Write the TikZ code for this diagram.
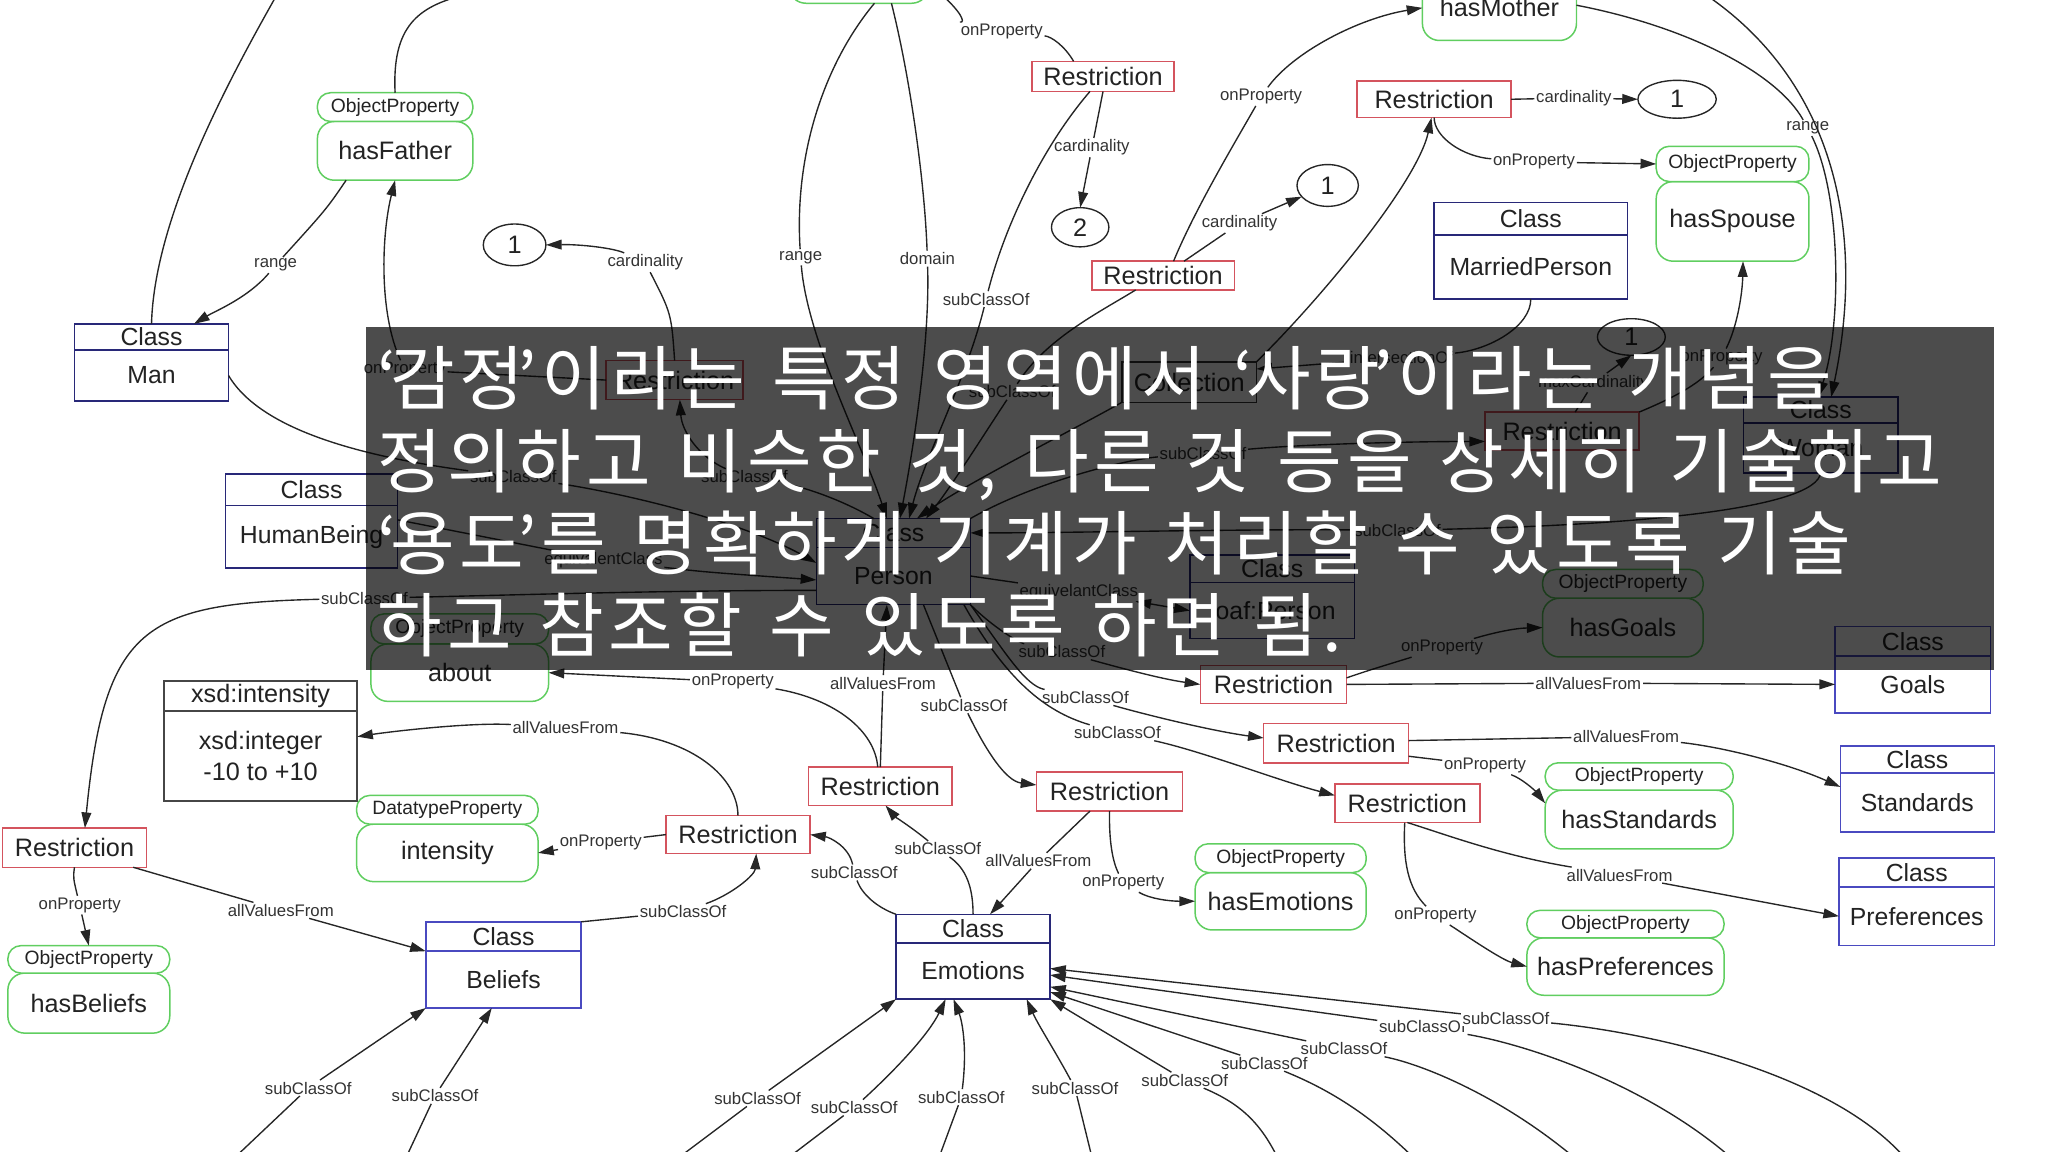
\documentclass[tikz,border=0pt]{standalone}
\usepackage{fontspec}
\setmainfont{Liberation Sans}
\newfontfamily\kofont[LetterSpace=6.8, WordSpace=1.33]{Noto Sans CJK KR}
\usetikzlibrary{shapes.geometric, arrows.meta, positioning, calc}

\definecolor{restred}{RGB}{212, 84, 94}
\definecolor{propgreen}{RGB}{96, 206, 96}
\definecolor{clsnavy}{RGB}{40, 40, 120}
\definecolor{clsblue}{RGB}{74, 74, 192}
\definecolor{xsdgrey}{RGB}{70, 70, 70}
\definecolor{inkgrey}{RGB}{35, 35, 35}

\tikzset{
  link/.style={line width=0.6pt, draw=black!85},
  linkarr/.style={link, -{Triangle[length=2.4mm, width=1.5mm]}},
  eqarr/.style={link, {Triangle[length=2.4mm, width=1.5mm]}-{Triangle[length=2.4mm, width=1.5mm]}},
  lbl/.style={font=\fontsize{7.3}{8}\selectfont, text=black!80, fill=white, inner sep=0.6pt},
  restr/.style={draw=restred, line width=0.65pt, fill=white, text=inkgrey, font=\fontsize{11}{13}\selectfont, inner sep=0pt, outer sep=0pt},
  clsbody/.style={draw=#1, line width=0.65pt, fill=white, text=inkgrey, font=\fontsize{10.8}{13}\selectfont, inner sep=0pt, outer sep=0pt},
  clsbody/.default=clsnavy,
  clshead/.style={clsbody=#1},
  clshead/.default=clsnavy,
  xsdbody/.style={draw=xsdgrey, line width=0.8pt, fill=white, text=inkgrey, font=\fontsize{11}{13.6}\selectfont, align=center, inner sep=0pt, outer sep=0pt},
  collbox/.style={draw=black!80, line width=0.65pt, fill=white, text=inkgrey, font=\fontsize{11}{13}\selectfont, inner sep=0pt, outer sep=0pt},
  propbody/.style={draw=propgreen, line width=0.65pt, fill=white, rounded corners=0.26cm, text=inkgrey, font=\fontsize{11}{13}\selectfont, inner sep=0pt, outer sep=0pt},
  prophead/.style={draw=propgreen, line width=0.65pt, fill=white, rounded corners=0.2cm, text=inkgrey, font=\fontsize{8.4}{10}\selectfont, inner sep=0pt, outer sep=0pt},
  cardnum/.style={ellipse, draw=black!85, line width=0.6pt, fill=white, text=inkgrey, font=\fontsize{11}{13}\selectfont, inner sep=0pt, outer sep=0pt},
  kotxt/.style={text=white, font=\kofont\fontsize{30.6}{36}\selectfont, inner sep=0pt, anchor=base west},
}

\begin{document}
\begin{tikzpicture}[x=0.02cm, y=-0.02cm]
  \useasboundingbox (0,0) rectangle (1568,882);

  % Classes
  \node[clsbody, minimum width=2.36cm, minimum height=0.78cm] (man) at (116,287.5) {Man};
  \node[clshead, minimum width=2.36cm, minimum height=0.40cm, above=0pt of man] (man-h) {Class};
  \node[clsbody, minimum width=2.64cm, minimum height=0.96cm] (human) at (238.5,411) {HumanBeing};
  \node[clshead, minimum width=2.64cm, minimum height=0.48cm, above=0pt of human] (human-h) {Class};
  \node[clsbody, minimum width=2.96cm, minimum height=0.98cm] (married) at (1172,204.5) {MarriedPerson};
  \node[clshead, minimum width=2.96cm, minimum height=0.50cm, above=0pt of married] (married-h) {Class};
  \node[clsbody, minimum width=2.36cm, minimum height=0.88cm] (person) at (684,441) {Person};
  \node[clshead, minimum width=2.36cm, minimum height=0.44cm, above=0pt of person] (person-h) {Class};
  \node[clsbody, minimum width=2.52cm, minimum height=0.86cm] (foaf) at (974,467.5) {foaf:Person};
  \node[clshead, minimum width=2.52cm, minimum height=0.42cm, above=0pt of foaf] (foaf-h) {Class};
  \node[clsbody, minimum width=2.36cm, minimum height=0.76cm] (woman) at (1394,343) {Woman};
  \node[clshead, minimum width=2.36cm, minimum height=0.40cm, above=0pt of woman] (woman-h) {Class};
  \node[clsbody=clsblue, minimum width=2.38cm, minimum height=0.87cm] (goals) at (1464.5,524) {Goals};
  \node[clshead=clsblue, minimum width=2.38cm, minimum height=0.45cm, above=0pt of goals] (goals-h) {Class};
  \node[clsbody=clsblue, minimum width=2.36cm, minimum height=0.90cm] (standards) at (1468,614.5) {Standards};
  \node[clshead=clsblue, minimum width=2.36cm, minimum height=0.42cm, above=0pt of standards] (standards-h) {Class};
  \node[clsbody=clsblue, minimum width=2.38cm, minimum height=0.90cm] (prefs) at (1467.5,701.5) {Preferences};
  \node[clshead=clsblue, minimum width=2.38cm, minimum height=0.44cm, above=0pt of prefs] (prefs-h) {Class};
  \node[clsbody=clsblue, minimum width=2.38cm, minimum height=0.87cm] (beliefs) at (385.5,750) {Beliefs};
  \node[clshead=clsblue, minimum width=2.38cm, minimum height=0.45cm, above=0pt of beliefs] (beliefs-h) {Class};
  \node[clsbody, minimum width=2.36cm, minimum height=0.86cm] (emotions) at (745,743.5) {Emotions};
  \node[clshead, minimum width=2.36cm, minimum height=0.44cm, above=0pt of emotions] (emotions-h) {Class};
  \node[xsdbody, minimum width=2.96cm, minimum height=1.38cm] (xsd) at (199.5,579) {xsd:integer\\-10 to +10};
  \node[xsdbody, minimum width=2.96cm, minimum height=0.46cm, above=0pt of xsd] (xsd-h) {xsd:intensity};
  \node[collbox, minimum width=2.06cm, minimum height=0.62cm] (coll) at (910.5,292.5) {Collection};

  % Restrictions
  \node[restr, minimum width=2.18cm, minimum height=0.46cm] (r1) at (844.5,58.5) {Restriction};
  \node[restr, minimum width=2.36cm, minimum height=0.56cm] (r2) at (1098,76) {Restriction};
  \node[restr, minimum width=2.18cm, minimum height=0.44cm] (r3) at (890.5,211) {Restriction};
  \node[restr, minimum width=2.10cm, minimum height=0.60cm] (r4) at (516.5,291) {Restriction};
  \node[restr, minimum width=2.36cm, minimum height=0.58cm] (r5) at (1196,330) {Restriction};
  \node[restr, minimum width=2.24cm, minimum height=0.58cm] (r6) at (975,524) {Restriction};
  \node[restr, minimum width=2.22cm, minimum height=0.60cm] (r7) at (1023,569) {Restriction};
  \node[restr, minimum width=2.22cm, minimum height=0.59cm] (r8) at (1077.5,615) {Restriction};
  \node[restr, minimum width=2.24cm, minimum height=0.60cm] (r9) at (849.5,606) {Restriction};
  \node[restr, minimum width=2.20cm, minimum height=0.59cm] (r10) at (674,602) {Restriction};
  \node[restr, minimum width=2.21cm, minimum height=0.58cm] (r11) at (565,639) {Restriction};
  \node[restr, minimum width=2.20cm, minimum height=0.60cm] (r12) at (57,649) {Restriction};

  % Cardinality values
  \node[cardnum, minimum width=0.96cm, minimum height=0.64cm] (c1a) at (394,187.5) {1};
  \node[cardnum, minimum width=0.88cm, minimum height=0.60cm] (c2) at (827,174) {2};
  \node[cardnum, minimum width=0.94cm, minimum height=0.64cm] (c1b) at (1016.5,142) {1};
  \node[cardnum, minimum width=1.20cm, minimum height=0.58cm] (c1c) at (1284,76) {1};
  \node[cardnum, minimum width=1.04cm, minimum height=0.56cm] (c1d) at (1249,258) {1};

  % Properties
  \node[propbody, minimum width=2.14cm, minimum height=0.90cm] (topprop) at (657.5,-20) {};
  \node[propbody, minimum width=2.36cm, minimum height=1.00cm] (hasmother) at (1148,6) {hasMother};
  \node[propbody, minimum width=2.38cm, minimum height=0.90cm] (hasfather) at (302.5,115.5) {hasFather};
  \node[prophead, minimum width=2.38cm, minimum height=0.44cm, above=0pt of hasfather] (hasfather-h) {ObjectProperty};
  \node[propbody, minimum width=2.34cm, minimum height=1.22cm] (hasspouse) at (1326.5,169.5) {hasSpouse};
  \node[prophead, minimum width=2.34cm, minimum height=0.54cm, above=0pt of hasspouse] (hasspouse-h) {ObjectProperty};
  \node[propbody, minimum width=2.46cm, minimum height=0.90cm] (hasgoals) at (1242.5,480.5) {hasGoals};
  \node[prophead, minimum width=2.46cm, minimum height=0.44cm, above=0pt of hasgoals] (hasgoals-h) {ObjectProperty};
  \node[propbody, minimum width=2.72cm, minimum height=0.88cm] (about) at (352,515) {about};
  \node[prophead, minimum width=2.72cm, minimum height=0.46cm, above=0pt of about] (about-h) {ObjectProperty};
  \node[propbody, minimum width=2.78cm, minimum height=0.88cm] (intensity) at (342.5,653) {intensity};
  \node[prophead, minimum width=2.78cm, minimum height=0.44cm, above=0pt of intensity] (intensity-h) {DatatypeProperty};
  \node[propbody, minimum width=2.48cm, minimum height=0.92cm] (hasbeliefs) at (68,768) {hasBeliefs};
  \node[prophead, minimum width=2.48cm, minimum height=0.42cm, above=0pt of hasbeliefs] (hasbeliefs-h) {ObjectProperty};
  \node[propbody, minimum width=2.62cm, minimum height=0.88cm] (hasemotions) at (980.5,690) {hasEmotions};
  \node[prophead, minimum width=2.62cm, minimum height=0.44cm, above=0pt of hasemotions] (hasemotions-h) {ObjectProperty};
  \node[propbody, minimum width=2.88cm, minimum height=0.90cm] (hasstandards) at (1255,627.5) {hasStandards};
  \node[prophead, minimum width=2.88cm, minimum height=0.42cm, above=0pt of hasstandards] (hasstandards-h) {ObjectProperty};
  \node[propbody, minimum width=3.02cm, minimum height=0.88cm] (hasprefs) at (1244.5,740) {hasPreferences};
  \node[prophead, minimum width=3.02cm, minimum height=0.42cm, above=0pt of hasprefs] (hasprefs-h) {ObjectProperty};

  % Free ends off the page
  \coordinate (mantop) at (212,-4);
  \coordinate (fatop) at (356,-4);
  \coordinate (wotop) at (1306,-4);
  \coordinate (bb1) at (520,886);
  \coordinate (bb2) at (604,886);
  \coordinate (bb3) at (719,886);
  \coordinate (bb4) at (836,886);
  \coordinate (bb5) at (978,886);
  \coordinate (bb6) at (1082,886);
  \coordinate (bb7) at (1205,886);
  \coordinate (bb8) at (1325,886);
  \coordinate (bb9) at (1458,886);
  \coordinate (bb10) at (180,886);
  \coordinate (bb11) at (311,886);

  % Edge labels
  \node[lbl] (l-fa-range) at (211,203) {range};
  \node[lbl] (l-r4-on) at (310,283) {onProperty};
  \node[lbl] (l-r4-card) at (494,201) {cardinality};
  \node[lbl] (l-man-sub) at (393,365) {subClassOf};
  \node[lbl] (l-hb-eq) at (462,429) {equivalentClass};
  \node[lbl] (l-pe-r12) at (279,458) {subClassOf};
  \node[lbl] (l-r10-on) at (561,522) {onProperty};
  \node[lbl] (l-r10-all) at (676,523) {allValuesFrom};
  \node[lbl] (l-r11-on) at (460,645) {onProperty};
  \node[lbl] (l-r11-all) at (433,557) {allValuesFrom};
  \node[lbl] (l-em-r11) at (654,668) {subClassOf};
  \node[lbl] (l-em-r10) at (718,650) {subClassOf};
  \node[lbl] (l-r9-all) at (795,659) {allValuesFrom};
  \node[lbl] (l-r9-on) at (860,676) {onProperty};
  \node[lbl] (l-pe-r9) at (738,540) {subClassOf};
  \node[lbl] (l-pe-r6) at (813,499) {subClassOf};
  \node[lbl] (l-pe-r7) at (831,534) {subClassOf};
  \node[lbl] (l-pe-r8) at (855.5,561) {subClassOf};
  \node[lbl] (l-r6-all) at (1216,523) {allValuesFrom};
  \node[lbl] (l-r6-on) at (1104,496) {onProperty};
  \node[lbl] (l-r7-all) at (1245,564) {allValuesFrom};
  \node[lbl] (l-r7-on) at (1137,586) {onProperty};
  \node[lbl] (l-r8-all) at (1240,670) {allValuesFrom};
  \node[lbl] (l-r8-on) at (1099,701) {onProperty};
  \node[lbl] (l-r12-on) at (61,693) {onProperty};
  \node[lbl] (l-r12-all) at (215,697) {allValuesFrom};
  \node[lbl] (l-be-r11) at (523,698) {subClassOf};
  \node[lbl] (l-bb10) at (236,833) {subClassOf};
  \node[lbl] (l-bb11) at (333,839) {subClassOf};
  \node[lbl] (l-bb1) at (580,841) {subClassOf};
  \node[lbl] (l-bb2) at (654,848) {subClassOf};
  \node[lbl] (l-bb3) at (736,840) {subClassOf};
  \node[lbl] (l-bb4) at (823,833) {subClassOf};
  \node[lbl] (l-bb5) at (907,827) {subClassOf};
  \node[lbl] (l-bb6) at (968,814) {subClassOf};
  \node[lbl] (l-bb7) at (1029,803) {subClassOf};
  \node[lbl] (l-bb8) at (1089,786) {subClassOf};
  \node[lbl] (l-bb9) at (1153,780) {subClassOf};
  \node[lbl] (l-tp-range) at (613,197) {range};
  \node[lbl] (l-tp-dom) at (710,198) {domain};
  \node[lbl] (l-r1-on) at (767,24) {onProperty};
  \node[lbl] (l-r1-card) at (836,113) {cardinality};
  \node[lbl] (l-r1-sub) at (755,229) {subClassOf};
  \node[lbl] (l-r3-sub) at (775,300) {subClassOf};
  \node[lbl] (l-r3-on) at (965.5,74) {onProperty};
  \node[lbl] (l-r3-card) at (949,171) {cardinality};
  \node[lbl] (l-r2-card) at (1205,75) {cardinality};
  \node[lbl] (l-r2-on) at (1174.5,124) {onProperty};
  \node[lbl] (l-mp-int) at (1073,274) {intersectionOf};
  \node[lbl] (l-pe-r5) at (921,347) {subClassOf};
  \node[lbl] (l-r5-max) at (1220,293) {maxCardinality};
  \node[lbl] (l-r5-on) at (1318,274) {onProperty};
  \node[lbl] (l-mo-range) at (1384,98) {range};
  \node[lbl] (l-wo-sub) at (1070,406) {subClassOf};
  \node[lbl] (l-pe-foaf) at (826,453) {equivelantClass};
  \node[lbl] (l-pe-r4) at (570,365) {subClassOf};

  % Left part
  \draw[link] (mantop) .. controls (170,70) and (118,170) .. (man-h.north);
  \draw[link] (hasfather-h.north) .. controls (300,20) and (320,5) .. (fatop);
  \draw[linkarr] ([xshift=-0.75cm]hasfather.south) .. controls (250,160) .. (l-fa-range) .. controls (190,228) and (165,238) .. ([xshift=0.65cm]man-h.north);
  \draw[linkarr] (r4.west) -- (l-r4-on) .. controls (290,240) and (292,180) .. (hasfather.south);
  \draw[linkarr] (r4.north) .. controls (514,240) .. (l-r4-card) .. controls (470,190) and (445,187) .. (c1a.east);
  \draw[linkarr] (man.east) .. controls (200,330) and (280,350) .. (l-man-sub) .. controls (480,378) and (570,400) .. ([yshift=0.2cm]person.west);
  \draw[linkarr] ([yshift=0.26cm]human.east) -- (l-hb-eq) .. controls (540,438) .. ([yshift=-0.06cm]person.west);
  \draw[linkarr] ([yshift=-0.22cm]person.west) .. controls (500,452) and (380,456) .. (l-pe-r12) .. controls (110,462) and (80,480) .. ([xshift=0.16cm]r12.north);
  \draw[linkarr] ([xshift=-0.3cm]person-h.north) .. controls (640,380) and (610,372) .. (l-pe-r4) .. controls (535,350) and (522,330) .. ([xshift=0.08cm]r4.south);
  \draw[linkarr] (r12.south) .. controls (56,672) .. (l-r12-on) -- (hasbeliefs-h.north);
  \draw[linkarr] ([xshift=0.9cm]r12.south) -- (l-r12-all) -- (beliefs-h.south west);
  \draw[linkarr] (beliefs-h.north east) -- (l-be-r11) .. controls (560,685) and (578,670) .. ([xshift=0.28cm]r11.south);
  \draw[linkarr] (r11.west) -- (l-r11-on) -- (intensity.east);
  \draw[linkarr] (r11.north) .. controls (565,595) and (530,566) .. (l-r11-all) .. controls (360,553) and (300,560) .. ([yshift=0.3cm]xsd.east);

  % Around Emotions
  \draw[linkarr] ([xshift=-0.04cm]r10.north) .. controls (670,560) and (640,535) .. (l-r10-on) -- (about.east);
  \draw[linkarr] (r10.north) -- (l-r10-all) -- ([xshift=-0.1cm]person.south);
  \draw[linkarr] (emotions-h.north west) .. controls (672,695) and (660,685) .. (l-em-r11) .. controls (650,648) and (635,641) .. (r11.east);
  \draw[linkarr] (emotions-h.north) .. controls (745,680) and (740,665) .. (l-em-r10) .. controls (700,635) and (685,625) .. ([xshift=0.08cm]r10.south);
  \draw[linkarr] ([xshift=-0.3cm]r9.south) -- (l-r9-all) -- ([xshift=0.26cm]emotions-h.north);
  \draw[linkarr] (r9.south) .. controls (849,645) and (852,660) .. (l-r9-on) .. controls (880,688) and (895,690) .. (hasemotions.west);
  \draw[linkarr] ([xshift=0.46cm]person.south) -- (l-pe-r9) .. controls (755,575) and (770,598) .. ([yshift=0.1cm]r9.west);
  \draw[linkarr] (person.south east) .. controls (760,480) and (780,492) .. (l-pe-r6) .. controls (860,512) and (890,520) .. (r6.west);
  \draw[linkarr] (person.south east) .. controls (770,500) and (785,525) .. (l-pe-r7) .. controls (880,548) and (930,560) .. ([yshift=0.08cm]r7.west);
  \draw[linkarr] ([xshift=-0.1cm]person.south east) .. controls (770,520) and (800,545) .. (l-pe-r8) .. controls (920,575) and (980,598) .. ([yshift=0.12cm]r8.west);

  % Right part
  \draw[linkarr] (r6.east) -- (l-r6-all) -- (goals.west);
  \draw[linkarr] ([yshift=0.1cm]r6.east) .. controls (1045,514) and (1065,508) .. (l-r6-on) .. controls (1145,484) and (1160,481) .. (hasgoals.west);
  \draw[linkarr] ([yshift=0.04cm]r7.east) -- (l-r7-all) .. controls (1320,572) and (1370,585) .. ([yshift=0.24cm]standards.west);
  \draw[linkarr] ([yshift=-0.2cm]r7.east) -- (l-r7-on) .. controls (1165,596) and (1175,605) .. ([yshift=0.25cm]hasstandards.west);
  \draw[linkarr] (r8.south) .. controls (1110,640) and (1150,655) .. (l-r8-all) -- (prefs.west);
  \draw[linkarr] ([xshift=-0.04cm]r8.south) .. controls (1074,660) and (1078,680) .. (l-r8-on) .. controls (1125,718) and (1150,735) .. (hasprefs.west);

  % Bottom, into Beliefs and Emotions
  \draw[linkarr] (bb10) -- (l-bb10) -- (beliefs.south west);
  \draw[linkarr] (bb11) -- (l-bb11) -- ([xshift=-0.18cm]beliefs.south);
  \draw[linkarr] (bb1) -- (l-bb1) -- (emotions.south west);
  \draw[linkarr] (bb2) -- (l-bb2) .. controls (690,815) and (712,790) .. ([xshift=-0.42cm]emotions.south);
  \draw[linkarr] (bb3) -- (l-bb3) .. controls (741,800) and (736,780) .. ([xshift=-0.3cm]emotions.south);
  \draw[linkarr] (bb4) -- (l-bb4) .. controls (808,805) and (795,785) .. ([xshift=0.82cm]emotions.south);
  \draw[linkarr] (bb5) .. controls (965,860) and (950,845) .. (l-bb5) -- (emotions.south east);
  \draw[linkarr] (bb6) .. controls (1050,855) and (1020,835) .. (l-bb6) -- ([yshift=-0.32cm]emotions.east);
  \draw[linkarr] (bb7) .. controls (1150,840) and (1090,815) .. (l-bb7) -- ([yshift=-0.24cm]emotions.east);
  \draw[linkarr] (bb8) .. controls (1260,830) and (1170,800) .. (l-bb8) -- ([yshift=-0.06cm]emotions.east);
  \draw[linkarr] (bb9) .. controls (1400,820) and (1260,790) .. (l-bb9) -- ([yshift=0.04cm]emotions.east);

  % Top part
  \draw[linkarr] ([xshift=0.24cm]topprop.south) .. controls (630,50) and (608,120) .. (l-tp-range) .. controls (618,260) and (660,340) .. ([xshift=-0.1cm]person-h.north);
  \draw[linkarr] ([xshift=0.5cm]topprop.south) .. controls (697,60) and (708,140) .. (l-tp-dom) .. controls (712,260) and (700,340) .. ([xshift=0.1cm]person-h.north);
  \draw[linkarr] ([xshift=-0.45cm]r1.north) .. controls (815,35) and (805,28) .. (l-r1-on) .. controls (740,18) and (735,8) .. ([yshift=0.3cm]topprop.south east);
  \draw[linkarr] (r1.south) -- (l-r1-card) -- (c2.north);
  \draw[linkarr] ([xshift=-0.2cm]r1.south) .. controls (800,110) and (770,170) .. (l-r1-sub) .. controls (740,290) and (708,350) .. ([xshift=0.24cm]person-h.north);
  \draw[linkarr] ([xshift=-0.42cm]r3.south) .. controls (840,240) and (800,260) .. (l-r3-sub) .. controls (755,330) and (730,370) .. ([xshift=0.5cm]person-h.north);
  \draw[linkarr] ([xshift=0.16cm]r3.north) .. controls (915,160) and (945,110) .. (l-r3-on) .. controls (990,40) and (1040,14) .. (hasmother.west);
  \draw[linkarr] ([xshift=0.32cm]r3.north) -- (l-r3-card) -- (c1b);
  \draw[linkarr] (r2.east) -- (l-r2-card) -- (c1c.west);
  \draw[linkarr] (r2.south) .. controls (1098,105) and (1120,120) .. (l-r2-on) -- (hasspouse-h.west);
  \draw[linkarr] (coll.north east) .. controls (1010,230) and (1085,140) .. ([xshift=-0.04cm]r2.south);
  \draw[linkarr] (married.south) .. controls (1172,250) and (1140,268) .. (l-mp-int) -- ([yshift=0.2cm]coll.east);
  \draw[linkarr] (coll.south west) .. controls (820,330) and (740,370) .. ([xshift=0.36cm]person-h.north);
  \draw[linkarr] (person-h.north east) .. controls (790,370) and (860,352) .. (l-pe-r5) .. controls (1000,340) and (1080,338) .. ([yshift=-0.16cm]r5.west);
  \draw[linkarr] ([xshift=0.2cm]r5.north) -- (l-r5-max) -- (c1d.south);
  \draw[linkarr] (r5.north east) .. controls (1280,305) and (1300,295) .. (l-r5-on) .. controls (1330,250) and (1334,225) .. ([xshift=0.16cm]hasspouse.south);
  \draw[linkarr] ([yshift=0.04cm]hasmother.east) .. controls (1290,20) and (1360,55) .. (l-mo-range) .. controls (1410,150) and (1410,250) .. ([xshift=-0.04cm]woman-h.north);
  \draw[linkarr] (wotop) .. controls (1400,60) and (1430,170) .. ([xshift=0.16cm]woman-h.north);
  \draw[linkarr] (woman.south) .. controls (1390,390) and (1250,402) .. (l-wo-sub) .. controls (950,405) and (820,408) .. (person-h.east);
  \draw[eqarr] (person.east) -- (l-pe-foaf) -- (foaf.west);

  % Caption band
  \fill[black, opacity=0.7] (280,250) rectangle (1527,513);
  \node[kotxt] (ko1) at (289,310) {‘\kern-3pt감정\kern-3pt’이라는 특정 영역에서 ‘\kern-3pt사랑\kern-3pt’이라는 개념을};
  \node[kotxt] (ko2) at (289,373) {정의하고 비슷한 것, 다른 것 등을 상세히 기술하고};
  \node[kotxt] (ko3) at (289,436) {‘\kern-3pt용도\kern-3pt’를 명확하게 기계가 처리할 수 있도록 기술};
  \node[kotxt] (ko4) at (289,499) {하고 참조할 수 있도록 하면 됨.};
\end{tikzpicture}
\end{document}
